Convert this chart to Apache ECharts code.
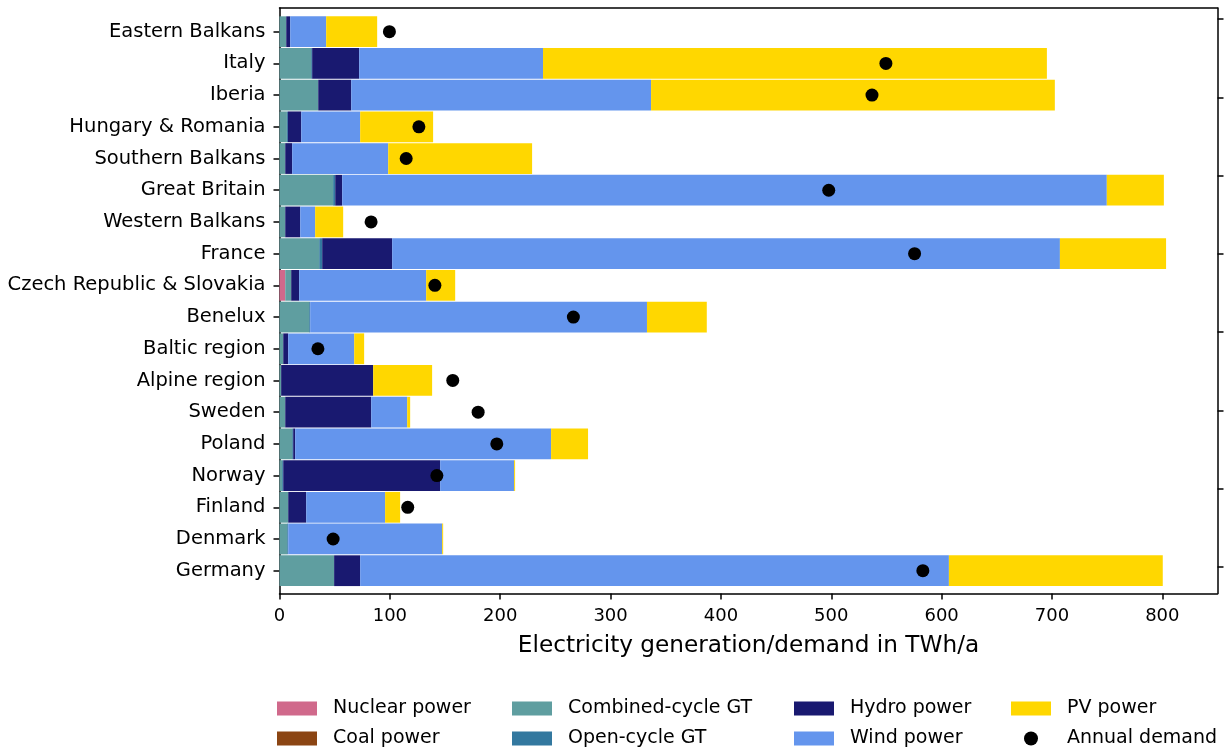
<!DOCTYPE html>
<html>
<head>
<meta charset="utf-8">
<title>Electricity generation and demand by region</title>
<script src="https://cdn.jsdelivr.net/npm/echarts@6/dist/echarts.min.js"></script>
<style>
  html, body { margin: 0; padding: 0; background: #ffffff; }
  #chart { width: 1227px; height: 747px; }
</style>
</head>
<body>
<div id="chart"></div>
<script>
// Regions, listed from top to bottom of the chart
const regions = ['Eastern Balkans', 'Italy', 'Iberia', 'Hungary & Romania', 'Southern Balkans',
  'Great Britain', 'Western Balkans', 'France', 'Czech Republic & Slovakia', 'Benelux',
  'Baltic region', 'Alpine region', 'Sweden', 'Poland', 'Norway', 'Finland', 'Denmark', 'Germany'];

// Annual generation per technology, TWh/a (same order as regions)
const nuclearPower = [0, 0, 0, 0, 0, 0, 0, 0, 5.2, 0, 0, 0, 0, 0, 0, 0, 0, 0];
const coalPower    = [0, 0, 0, 0, 0, 0, 0, 0, 0, 0, 0, 0, 0, 0, 0, 0, 0, 0];
const combinedGT   = [6.1, 28.7, 35.1, 6.7, 5.2, 48.6, 5.2, 36.0, 5.4, 26.9, 3.4, 1.5, 5.2, 11.5, 2.4, 7.9, 7.0, 49.5];
const openGT       = [0, 0.9, 0, 0.9, 0, 1.9, 0, 2.7, 0, 0.9, 0, 0, 0, 0.9, 1.0, 0, 0.9, 0];
const hydroPower   = [3.6, 42.6, 29.9, 12.1, 6.3, 6.3, 13.6, 63.4, 7.2, 0, 4.5, 83.4, 77.9, 1.8, 142.2, 16.3, 0, 23.6];
const windPower    = [32.6, 166.6, 271.7, 53.4, 87.0, 692.9, 13.5, 605.1, 115.1, 305.2, 59.8, 0, 32.6, 231.9, 67.0, 71.5, 139.5, 533.5];
const pvPower      = [46.2, 456.6, 365.9, 66.1, 130.4, 51.7, 25.4, 96.2, 26.3, 54.2, 9.0, 53.4, 2.7, 33.5, 0.9, 13.6, 0.9, 193.8];

// Annual electricity demand, TWh/a
const annualDemand = [99.6, 549.5, 536.9, 126.3, 114.8, 497.7, 83.0, 575.5, 140.8, 266.3, 34.8, 157.0, 180.0, 196.9, 142.6, 116.2, 48.6, 583.0];

// X axis extent and tick values
const xMin = 0;
const xMax = 850;
const xTicks = [0, 100, 200, 300, 400, 500, 600, 700, 800];

const FONT = 'DejaVu Sans';

const technologies = [
  { name: 'Nuclear power',      data: nuclearPower, color: '#d0698b' },
  { name: 'Coal power',         data: coalPower,    color: '#8b4513' },
  { name: 'Combined-cycle GT',  data: combinedGT,   color: '#5f9ea0' },
  { name: 'Open-cycle GT',      data: openGT,       color: '#33789f' },
  { name: 'Hydro power',        data: hydroPower,   color: '#191970' },
  { name: 'Wind power',         data: windPower,    color: '#6495ed' },
  { name: 'PV power',           data: pvPower,      color: '#ffd700' }
];

const barSeries = technologies.map(t => ({
  name: t.name,
  type: 'bar',
  stack: 'generation',
  xAxisIndex: 0,
  yAxisIndex: 0,
  barCategoryGap: '3%',
  itemStyle: { color: t.color },
  emphasis: { disabled: true },
  data: t.data
}));

const demandSeries = {
  name: 'Annual demand',
  type: 'scatter',
  xAxisIndex: 0,
  yAxisIndex: 0,
  symbol: 'circle',
  symbolSize: 13,
  itemStyle: { color: '#000000', opacity: 1 },
  emphasis: { disabled: true },
  z: 5,
  data: annualDemand
};

const PLOT_LEFT = 279.5;
const PLOT_RIGHT = 9.5;
const frameLine = { show: true, onZero: false, lineStyle: { color: '#000', width: 1.5 } };
const tickStyle = { color: '#000', width: 1.5 };

function legendColumn(left, names) {
  return {
    orient: 'vertical',
    left: left,
    top: 699,
    height: 60,
    padding: 0,
    itemWidth: 40,
    itemHeight: 14,
    itemGap: 11,
    icon: 'rect',
    selectedMode: false,
    data: names.map(n => n === 'Annual demand' ? { name: n, icon: 'circle' } : { name: n }),
    textStyle: { fontFamily: FONT, fontSize: 19, color: '#000', padding: [0, 0, 0, 11] }
  };
}

const option = {
  animation: false,
  backgroundColor: '#ffffff',
  grid: [
    // bars and demand markers
    { left: PLOT_LEFT, right: PLOT_RIGHT, top: 15.85, bottom: 160.45 },
    // axes frame
    { left: PLOT_LEFT, right: PLOT_RIGHT, top: 8, bottom: 153.5 },
    // right-hand tick marks
    { left: PLOT_LEFT, right: PLOT_RIGHT, top: 19, bottom: 180 }
  ],
  xAxis: [
    { gridIndex: 0, type: 'value', min: xMin, max: xMax, show: false },
    {
      gridIndex: 1, type: 'value', min: xMin, max: xMax, position: 'bottom',
      axisLine: frameLine,
      axisTick: { show: true, inside: false, length: 6, lineStyle: tickStyle, customValues: xTicks },
      axisLabel: { fontFamily: FONT, fontSize: 18, color: '#000', margin: 13.5, customValues: xTicks },
      splitLine: { show: false },
      name: 'Electricity generation/demand in TWh/a',
      nameLocation: 'middle',
      nameGap: 41,
      nameTextStyle: { fontFamily: FONT, fontSize: 23.2, color: '#000' }
    },
    {
      gridIndex: 1, type: 'value', min: xMin, max: xMax, position: 'top',
      axisLine: frameLine, axisTick: { show: false }, axisLabel: { show: false }, splitLine: { show: false }
    },
    { gridIndex: 2, type: 'value', min: 0, max: 1, show: false }
  ],
  yAxis: [
    {
      gridIndex: 0, type: 'category', data: regions, inverse: true,
      axisLine: { show: false },
      axisTick: { show: true, alignWithLabel: true, length: 6, lineStyle: tickStyle },
      axisLabel: { fontFamily: FONT, fontSize: 19.5, color: '#000', margin: 14, padding: [3, 0, 0, 0] }
    },
    {
      gridIndex: 1, type: 'value', min: 0, max: 1, position: 'left',
      axisLine: frameLine, axisTick: { show: false }, axisLabel: { show: false }, splitLine: { show: false }
    },
    {
      gridIndex: 1, type: 'value', min: 0, max: 1, position: 'right',
      axisLine: frameLine, axisTick: { show: false }, axisLabel: { show: false }, splitLine: { show: false }
    },
    {
      gridIndex: 2, type: 'value', min: 0, max: 7, interval: 1, position: 'right',
      axisLine: { show: false, onZero: false },
      axisTick: { show: true, length: 6, lineStyle: tickStyle },
      axisLabel: { show: false },
      splitLine: { show: false }
    }
  ],
  legend: [
    legendColumn(277, ['Nuclear power', 'Coal power']),
    legendColumn(512, ['Combined-cycle GT', 'Open-cycle GT']),
    legendColumn(794, ['Hydro power', 'Wind power']),
    legendColumn(1011, ['PV power', 'Annual demand'])
  ],
  series: barSeries.concat([demandSeries])
};

const chart = echarts.init(document.getElementById('chart'), null, { renderer: 'canvas' });
chart.setOption(option);
</script>
</body>
</html>
